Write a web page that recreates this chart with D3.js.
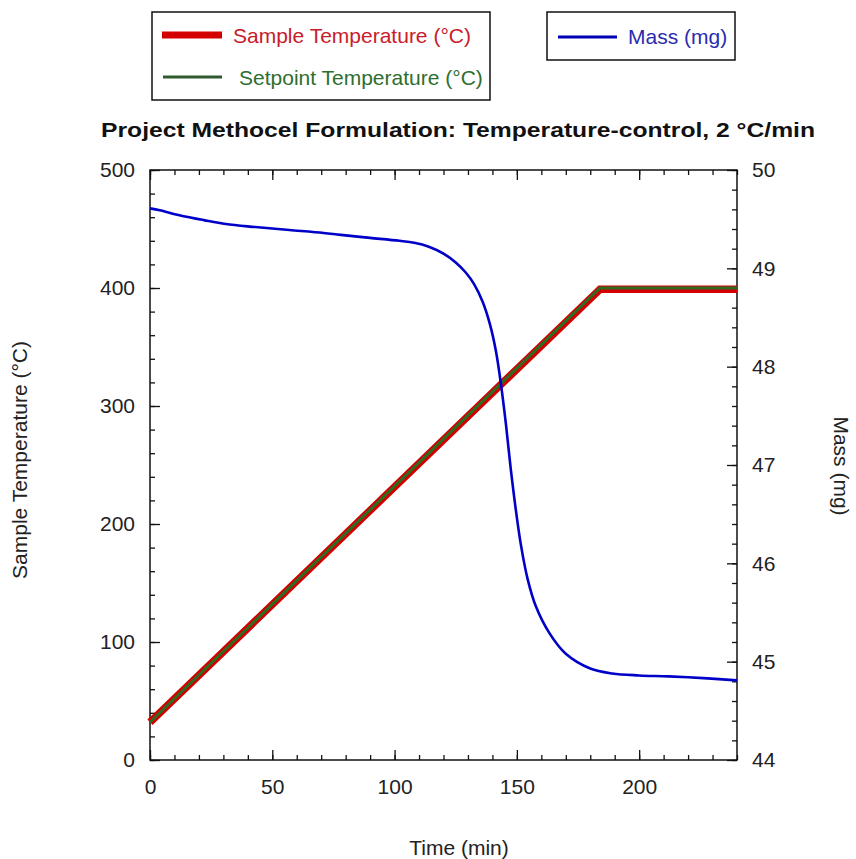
<!DOCTYPE html>
<html><head><meta charset="utf-8">
<script src="https://cdn.jsdelivr.net/npm/d3@7"></script>
<style>
html,body{margin:0;padding:0;background:#fff;}
svg{display:block;font-family:"Liberation Sans",Arial,sans-serif;}
</style></head>
<body><svg id="c" width="856" height="859"></svg>
<script>
// ---- data ----
const tempTime = [0, 184, 240];
const sampleTemp = [32, 399, 399];
const setpointTemp = [32, 400, 400];

const massTime = [0, 4, 12, 22, 31, 43, 57, 71, 78, 90, 102, 108, 114, 120, 125, 129, 132.5, 136, 139, 141.5, 143.5, 145.5, 147.5, 149.7, 151.7, 154.4, 157.8, 163.3, 170, 180, 189, 200, 212, 228, 240];
const massVal  = [49.61, 49.59, 49.54, 49.49, 49.45, 49.42, 49.39, 49.36, 49.34, 49.31, 49.28, 49.26, 49.22, 49.15, 49.06, 48.96, 48.84, 48.66, 48.43, 48.15, 47.82, 47.42, 46.96, 46.52, 46.18, 45.84, 45.56, 45.29, 45.08, 44.93, 44.88, 44.86, 44.85, 44.83, 44.81];

const xTicks = [0, 50, 100, 150, 200];
const yLeftTicks = [0, 100, 200, 300, 400, 500];
const yRightTicks = [44, 45, 46, 47, 48, 49, 50];

const title = "Project Methocel Formulation: Temperature-control, 2 °C/min";
const xLabel = "Time (min)";
const yLeftLabel = "Sample Temperature (°C)";
const yRightLabel = "Mass (mg)";
const legendSample = "Sample Temperature (°C)";
const legendSetpoint = "Setpoint Temperature (°C)";
const legendMass = "Mass (mg)";

// ---- layout ----
const L = 150, R = 737, T = 170, B = 760;
const svg = d3.select("#c");
const x = d3.scaleLinear().domain([0, 240]).range([L, R]);
const yL = d3.scaleLinear().domain([0, 500]).range([B, T]);
const yR = d3.scaleLinear().domain([44, 50]).range([B, T]);

const fs = 21;
const tickCol = "#222";

function axisGroup(axis, tx, ty, minorAxis) {
  if (minorAxis) {
    const m = svg.append("g").attr("transform", `translate(${tx},${ty})`).call(minorAxis);
    m.select(".domain").remove();
    m.selectAll("text").remove();
    m.selectAll("line").attr("stroke", "#111").attr("stroke-width", 1.3);
  }
  const g = svg.append("g").attr("transform", `translate(${tx},${ty})`);
  g.call(axis);
  g.select(".domain").remove();
  g.selectAll("line").attr("stroke", "#111").attr("stroke-width", 1.3);
  g.selectAll("text").attr("font-size", fs).attr("fill", tickCol).attr("font-family", "Liberation Sans, Arial, sans-serif");
  return g;
}
const xMinor = d3.range(0, 241, 10);
const yLMinor = d3.range(0, 501, 20);
const yRMinor = d3.range(44, 50.01, 0.2);

// bottom axis (ticks pointing up)
axisGroup(d3.axisBottom(x).tickValues(xTicks).tickSizeInner(-10).tickSizeOuter(0).tickPadding(19).tickFormat(d3.format("d")), 0, B,
  d3.axisBottom(x).tickValues(xMinor).tickSizeInner(-5).tickSizeOuter(0));
// top axis (ticks pointing down)
axisGroup(d3.axisTop(x).tickValues(xTicks).tickSizeInner(-10).tickSizeOuter(0).tickFormat(""), 0, T,
  d3.axisTop(x).tickValues(xMinor).tickSizeInner(-5).tickSizeOuter(0));
// left axis
axisGroup(d3.axisLeft(yL).tickValues(yLeftTicks).tickSizeInner(-10).tickSizeOuter(0).tickPadding(15).tickFormat(d3.format("d")), L, 0,
  d3.axisLeft(yL).tickValues(yLMinor).tickSizeInner(-5).tickSizeOuter(0));
// right axis
axisGroup(d3.axisRight(yR).tickValues(yRightTicks).tickSizeInner(-10).tickSizeOuter(0).tickPadding(15).tickFormat(d3.format("d")), R, 0,
  d3.axisRight(yR).tickValues(yRMinor).tickSizeInner(-5).tickSizeOuter(0));

// frame
svg.append("rect").attr("x", L).attr("y", T).attr("width", R - L).attr("height", B - T)
  .attr("fill", "none").attr("stroke", "#111").attr("stroke-width", 1.5);

// lines
const tempPts = tempTime.map((t, i) => ({t, s: sampleTemp[i], p: setpointTemp[i]}));
svg.append("path").datum(tempPts)
  .attr("d", d3.line().x(d => x(d.t)).y(d => yL(d.s)))
  .attr("fill", "none").attr("stroke", "#d40000").attr("stroke-width", 7.5).attr("stroke-linejoin", "miter");
svg.append("path").datum(tempPts)
  .attr("d", d3.line().x(d => x(d.t)).y(d => yL(d.p)))
  .attr("fill", "none").attr("stroke", "#2f6a23").attr("stroke-width", 3);

const massPts = massTime.map((t, i) => ({t, m: massVal[i]}));
svg.append("path").datum(massPts)
  .attr("d", d3.line().curve(d3.curveCatmullRom.alpha(0.5)).x(d => x(d.t)).y(d => yR(d.m)))
  .attr("fill", "none").attr("stroke", "#0000c8").attr("stroke-width", 2.6);

// title
svg.append("text").attr("x", 458).attr("y", 137).attr("text-anchor", "middle")
  .attr("font-size", 21).attr("font-weight", "bold").attr("fill", "#111")
  .attr("textLength", 714).attr("lengthAdjust", "spacingAndGlyphs").text(title);

// axis labels
svg.append("text").attr("x", 459).attr("y", 855).attr("text-anchor", "middle")
  .attr("font-size", fs).attr("fill", tickCol).text(xLabel);
svg.append("text").attr("transform", "translate(27,460) rotate(-90)").attr("text-anchor", "middle")
  .attr("font-size", fs).attr("fill", tickCol).text(yLeftLabel);
svg.append("text").attr("transform", "translate(834,466) rotate(90)").attr("text-anchor", "middle")
  .attr("font-size", fs).attr("fill", tickCol).text(yRightLabel);

// legend 1
const lg1 = svg.append("g");
lg1.append("rect").attr("x", 152).attr("y", 12).attr("width", 338).attr("height", 88)
  .attr("fill", "#fff").attr("stroke", "#111").attr("stroke-width", 1.5);
lg1.append("line").attr("x1", 162).attr("x2", 222).attr("y1", 35).attr("y2", 35)
  .attr("stroke", "#d40000").attr("stroke-width", 7);
lg1.append("text").attr("x", 233).attr("y", 43).attr("font-size", fs).attr("fill", "#c8202a").text(legendSample);
lg1.append("line").attr("x1", 163).attr("x2", 222).attr("y1", 77).attr("y2", 77)
  .attr("stroke", "#2f5a2f").attr("stroke-width", 3);
lg1.append("text").attr("x", 239).attr("y", 85).attr("font-size", fs).attr("fill", "#2e6e2e").text(legendSetpoint);

// legend 2
const lg2 = svg.append("g");
lg2.append("rect").attr("x", 547).attr("y", 12).attr("width", 188).attr("height", 48)
  .attr("fill", "#fff").attr("stroke", "#111").attr("stroke-width", 1.5);
lg2.append("line").attr("x1", 558).attr("x2", 617).attr("y1", 37).attr("y2", 37)
  .attr("stroke", "#0000b4").attr("stroke-width", 3);
lg2.append("text").attr("x", 628).attr("y", 44).attr("font-size", fs).attr("fill", "#2b2bb0").text(legendMass);
</script>
</body></html>
